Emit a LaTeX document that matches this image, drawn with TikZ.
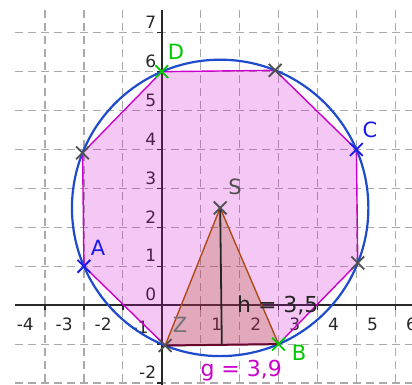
\documentclass[tikz,border=0pt]{standalone}
\usepackage{fontspec}
\setmainfont{DejaVu Sans}
\usetikzlibrary{shapes.misc}
\definecolor{ggmag}{RGB}{204,0,204}
\definecolor{ggbrown}{RGB}{175,75,25}
\definecolor{ggblue}{RGB}{30,75,205}
\definecolor{gggreen}{RGB}{0,200,0}
\definecolor{ptblue}{RGB}{25,25,235}
\definecolor{gridgray}{RGB}{170,170,170}
\definecolor{axisgray}{RGB}{40,40,40}
\definecolor{basemaroon}{RGB}{100,10,40}
\definecolor{ptgray}{RGB}{80,80,80}
\begin{document}
\begin{tikzpicture}[x=38.92pt,y=38.92pt,
  gridline/.style={draw=gridgray,line width=1.2pt,dash pattern=on 8pt off 5pt},
  axisline/.style={draw=axisgray,line width=1.5pt},
  tickline/.style={draw=axisgray,line width=1.3pt},
  axlabel/.style={inner sep=0pt,text=axisgray,font=\fontsize{17}{17}\selectfont},
  ptmark/.style={cross out,draw,minimum size=11pt,inner sep=0pt,line width=1.8pt},
  ptlabel/.style={inner sep=0pt,font=\fontsize{21}{21}\selectfont},
  vallabel/.style={inner sep=0pt,anchor=base west,font=\fontsize{22}{22}\selectfont}]
\useasboundingbox (-4.157,-2.050) rectangle (6.429,7.842);
% grid
\foreach \i in {-3,-2,-1,1,2,3,4,5,6} \draw[gridline] (\i,7.585) -- (\i,-2.05);
\foreach \j in {-2,-1,1,2,3,4,5,6,7} \draw[gridline] (-3.772,\j) -- (6.429,\j);
% axes
\draw[axisline] (-3.772,0) -- (6.429,0);
\draw[axisline] (0,7.585) -- (0,-2.05);
\foreach \i in {-3,-2,-1,1,2,3,4,5,6} \draw[tickline] (\i,0) -- (\i,-0.13);
\foreach \j in {-2,-1,1,2,3,4,5,6,7} \draw[tickline] (0,\j) -- (-0.13,\j);
% axis labels
\foreach \i in {-4,-3,-2,1,2,3,4,5,6} \node[axlabel,anchor=west] (xl\i) at (\i+0.27,-0.483) {\i};
\node[axlabel] (xlm1) at (-0.56,-0.56) {-1};
\foreach \j in {-2,1,2,3,4,5,6,7} \node[axlabel,anchor=east] (yl\j) at (-0.14,\j+0.27) {\j};
\node[axlabel,anchor=east] (yl0) at (-0.14,0.29) {0};
% points
\coordinate (S) at (1.5,2.5);
\coordinate (A) at (-2,1);
\coordinate (Z) at (0.08579,-1.03553);
\coordinate (B) at (3,-1);
\coordinate (P3) at (5.03553,1.08579);
\coordinate (C) at (5,4);
\coordinate (P5) at (2.91421,6.03553);
\coordinate (D) at (0,6);
\coordinate (P7) at (-2.03553,3.91421);
\coordinate (F) at (1.54289,-1.01777);
% fills
\fill[ggmag,opacity=0.22] (A) -- (Z) -- (B) -- (P3) -- (C) -- (P5) -- (D) -- (P7) -- cycle;
\fill[ggbrown,opacity=0.25] (S) -- (Z) -- (B) -- cycle;
% strokes
\draw[ggmag,line width=1.4pt] (A) -- (Z) -- (B) -- (P3) -- (C) -- (P5) -- (D) -- (P7) -- cycle;
\draw[ggblue,line width=2.2pt] (S) circle (3.8079);
\draw[ggbrown,line width=1.4pt] (Z) -- (S) -- (B);
\draw[basemaroon,line width=2pt] (Z) -- (B);
\draw[black!85,line width=1.8pt] (S) -- (F);
% point marks
\node[ptmark,draw=ptgray] (mS) at (S) {};
\node[ptmark,draw=ptblue] (mA) at (A) {};
\node[ptmark,draw=ptgray] (mZ) at (Z) {};
\node[ptmark,draw=gggreen] (mB) at (B) {};
\node[ptmark,draw=ptgray] (m3) at (P3) {};
\node[ptmark,draw=ptblue] (mC) at (C) {};
\node[ptmark,draw=ptgray] (m5) at (P5) {};
\node[ptmark,draw=gggreen] (mD) at (D) {};
\node[ptmark,draw=ptgray] (m7) at (P7) {};
% point labels
\node[ptlabel,text=gggreen] (lD) at (0.365,6.506) {D};
\node[ptlabel,text=ptblue] (lC) at (5.349,4.502) {C};
\node[ptlabel,text=ptblue] (lA) at (-1.639,1.470) {A};
\node[ptlabel,text=gggreen] (lB) at (3.525,-1.228) {B};
\node[ptlabel,text=ptgray] (lS) at (1.881,3.037) {S};
\node[ptlabel,text=ptgray!80] (lZ) at (0.468,-0.509) {Z};
% value labels
\node[vallabel,text=black!85] (hval) at (1.93,-0.200) {h = 3,5};
\node[vallabel,text=ggmag] (gval) at (0.99,-1.837) {g = 3,9};
\end{tikzpicture}
\end{document}
